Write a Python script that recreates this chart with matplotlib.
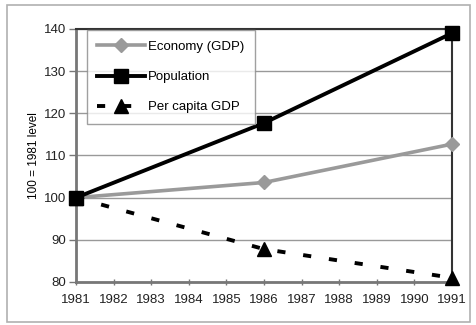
import matplotlib.pyplot as plt
from matplotlib.patches import Rectangle

# Index values, 1981 = 100
years = [1981, 1986, 1991]
economy = [100, 103.6, 112.7]
population = [100, 117.7, 139.0]
per_capita = [100, 87.8, 81.0]

year_ticks = list(range(1981, 1992))
y_ticks = [80, 90, 100, 110, 120, 130, 140]

plt.rcParams['font.family'] = ['Liberation Sans', 'DejaVu Sans']
plt.rcParams['font.size'] = 9.5

fig = plt.figure(figsize=(4.77, 3.25), dpi=100)
ax = fig.add_axes([76 / 477, 1 - 282 / 325, (452 - 76) / 477, (282 - 29) / 325])

# outer frame around the whole chart
fig.patches.append(Rectangle((7 / 477, 3 / 325), 463 / 477, 317 / 325,
                             transform=fig.transFigure, fill=False,
                             edgecolor='#b0b0b0', linewidth=1.2))

ax.plot(years, economy, color='#9a9a9a', linewidth=2.6, marker='D',
        markersize=7, markerfacecolor='#9a9a9a', markeredgecolor='#9a9a9a',
        label='Economy (GDP)', zorder=3, clip_on=False)
ax.plot(years, population, color='black', linewidth=2.8, marker='s',
        markersize=10, label='Population', zorder=4, clip_on=False)
ax.plot(years, per_capita, color='black', linewidth=2.8, linestyle=(0, (2.1, 4.6)),
        marker='^', markersize=10, label='Per capita GDP', zorder=3, clip_on=False)

ax.set_xlim(1981, 1991)
ax.set_ylim(80, 140)
ax.set_xticks(year_ticks)
ax.set_yticks(y_ticks)
ax.tick_params(axis='x', direction='inout', length=5, width=1, color='#777777',
               pad=6, labelcolor='#222222')
ax.tick_params(axis='y', direction='out', length=5, width=1, color='#777777',
               pad=2, labelcolor='#222222')
ax.grid(axis='y', color='#999999', linewidth=1)
ax.set_axisbelow(True)

for side in ['left', 'bottom']:
    ax.spines[side].set_color('#777777')
    ax.spines[side].set_linewidth(2)
for side in ['top', 'right']:
    ax.spines[side].set_color('#333333')
    ax.spines[side].set_linewidth(1.5)

ax.set_ylabel('100 = 1981 level', fontsize=8.5, labelpad=3)

leg = ax.legend(loc='upper left', bbox_to_anchor=(0.025, 1.0), frameon=True,
                fancybox=False, edgecolor='#888888', borderpad=0.8,
                labelspacing=1.35, handlelength=3.6, handletextpad=0.25,
                borderaxespad=0.1, fontsize=9.5)
leg.get_frame().set_linewidth(1)

fig.savefig('out.png', dpi=100)
